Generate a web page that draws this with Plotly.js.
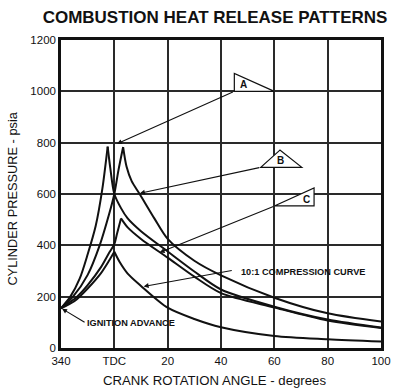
<!DOCTYPE html>
<html>
<head>
<meta charset="utf-8">
<script src="https://cdn.plot.ly/plotly-3.0.1.min.js"></script>
<style>html,body{margin:0;padding:0;background:#fff;}#chart{width:400px;height:391px;}</style>
</head>
<body>
<div id="chart"></div>
<script>
// Crank angle in degrees relative to TDC (340 = -20)
const xTickVals = [-20, 0, 20, 40, 60, 80, 100];
const xTickText = ['340', 'TDC', '20', '40', '60', '80', '100'];
const yTickVals = [0, 200, 400, 600, 800, 1000, 1200];

// Curve A (early heat release)
const aRiseX = [-20, -16.5, -13, -10, -7, -4.5, -2.5];
const aRiseY = [155, 200, 270, 365, 475, 620, 785];
const aFallX = [-2.5, -1.5, 0, 2.5, 5, 10, 20, 30, 40, 60, 80, 100];
const aFallY = [785, 700, 600, 545, 505, 455, 376, 298, 228, 161, 111, 80];

// Curve B
const bRiseX = [-20, -15.5, -10, -5.5, -2, 0, 1.5, 3.3];
const bRiseY = [155, 200, 285, 400, 520, 600, 690, 783];
const bFallX = [3.3, 4.6, 6.5, 9.5, 15, 20, 30, 40, 60, 80, 100];
const bFallY = [783, 706, 650, 600, 505, 425, 340, 283, 196, 135, 103];

// Curve C
const cRiseX = [-20, -14, -10, -5, -2, 0, 1, 2.5];
const cRiseY = [155, 200, 245, 315, 370, 405, 445, 505];
const cFallX = [2.5, 5, 10, 20, 30, 40, 60, 80, 100];
const cFallY = [505, 470, 425, 352, 278, 214, 158, 107, 78];

// 10:1 compression curve
const compRiseX = [-20, -15, -10, -5, -2, 0];
const compRiseY = [155, 182, 232, 292, 340, 375];
const compFallX = [0, 2, 5, 10, 20, 30, 40, 60, 80, 100];
const compFallY = [375, 335, 290, 242, 157, 113, 81, 47, 34, 25];

const series = [
  [aRiseX, aRiseY], [aFallX, aFallY],
  [bRiseX, bRiseY], [bFallX, bFallY],
  [cRiseX, cRiseY], [cFallX, cFallY],
  [compRiseX, compRiseY], [compFallX, compFallY]
];

const traces = series.map(s => ({
  x: s[0], y: s[1], type: 'scatter', mode: 'lines',
  line: {color: '#111', width: 2, shape: 'spline', smoothing: 0.8},
  hoverinfo: 'skip', showlegend: false
}));

const FONT = 'Arial, "Liberation Sans", sans-serif';

function tri(pts) {
  return {type: 'path', xref: 'x', yref: 'y', layer: 'above',
    path: 'M' + pts.map(p => p[0] + ',' + p[1]).join(' L') + ' Z',
    line: {color: '#111', width: 1.2}, fillcolor: '#fff'};
}

const shapes = [
  tri([[45, 1070], [45, 1000], [60, 1000]]),
  tri([[62.1, 771], [54.9, 704], [70.3, 704]]),
  tri([[74.9, 624], [74.9, 554], [60.2, 554]])
];

function lead(x, y, ax, ay) {
  return {x: x, y: y, ax: ax, ay: ay, xref: 'x', yref: 'y', axref: 'x', ayref: 'y',
    text: '', showarrow: true, arrowhead: 2, arrowsize: 0.9, arrowwidth: 1.1, arrowcolor: '#111'};
}
function label(x, y, t, size) {
  return {x: x, y: y, xref: 'x', yref: 'y', text: t, showarrow: false,
    font: {family: FONT, size: size, color: '#111', weight: 'bold'}};
}

const annotations = [
  lead(1, 796, 45, 1000),
  lead(9.6, 603, 54.9, 704),
  lead(17, 372, 60.2, 554),
  lead(11, 240, 44.6, 303),
  lead(-19.6, 153, -10.6, 97),
  label(48.3, 1027, 'A', 10),
  label(62.4, 731, 'B', 10),
  label(72.0, 578, 'C', 10),
  label(70.6, 297, '10:1 COMPRESSION CURVE', 9.2),
  label(6.4, 97, 'IGNITION ADVANCE', 9.2),
  {xref: 'paper', yref: 'paper', x: 0.481, y: -0.107, xanchor: 'center', yanchor: 'middle',
   text: 'CRANK ROTATION ANGLE - degrees', showarrow: false,
   font: {family: FONT, size: 13.2, color: '#111'}},
  {xref: 'paper', yref: 'paper', x: -0.15, y: 0.485, xanchor: 'center', yanchor: 'middle',
   textangle: -90, text: 'CYLINDER PRESSURE - psia', showarrow: false,
   font: {family: FONT, size: 12.8, color: '#111'}}
];

const layout = {
  width: 400, height: 391,
  margin: {l: 61, r: 19, t: 40, b: 43},
  paper_bgcolor: '#fff', plot_bgcolor: '#fff',
  title: {text: 'COMBUSTION HEAT RELEASE PATTERNS', x: 0.5375, xanchor: 'center',
    y: 0.957, yanchor: 'middle', xref: 'container', yref: 'container',
    font: {family: FONT, size: 17, color: '#111', weight: 'bold'}},
  xaxis: {range: [-20, 100], tickvals: xTickVals, ticktext: xTickText,
    showgrid: true, gridcolor: '#2a2a2a', gridwidth: 2, zeroline: false,
    showline: true, linecolor: '#111', linewidth: 2.5, mirror: true,
    ticks: '', tickfont: {family: FONT, size: 11.5, color: '#111'},
    fixedrange: true},
  yaxis: {range: [0, 1200], tickvals: yTickVals,
    showgrid: true, gridcolor: '#2a2a2a', gridwidth: 2, zeroline: false,
    showline: true, linecolor: '#111', linewidth: 2.5, mirror: true,
    ticks: '', tickfont: {family: FONT, size: 11.5, color: '#111'},
    fixedrange: true},
  shapes: shapes,
  annotations: annotations
};

Plotly.newPlot('chart', traces, layout, {displayModeBar: false});
</script>
</body>
</html>
